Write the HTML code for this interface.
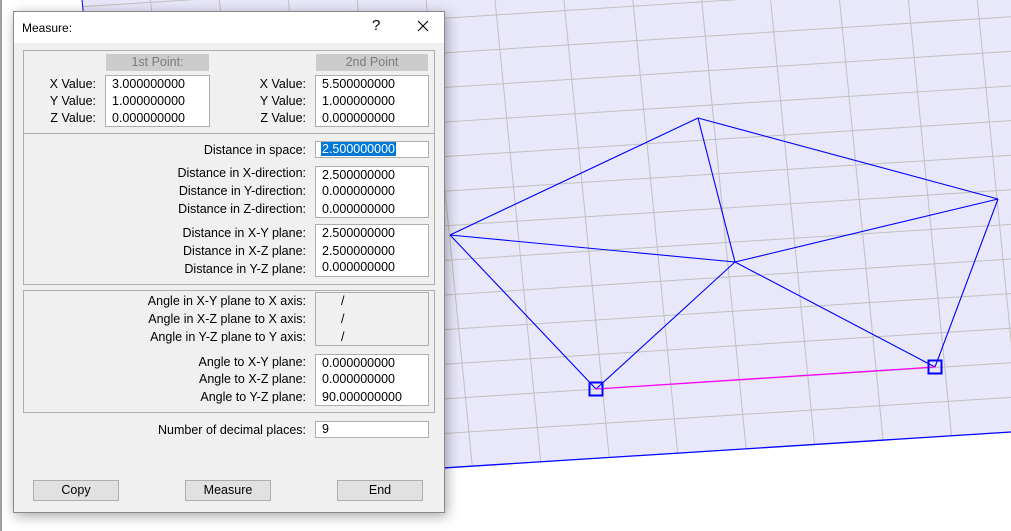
<!DOCTYPE html>
<html><head><meta charset="utf-8"><style>
body{margin:0;width:1011px;height:531px;overflow:hidden;background:#fff;position:relative;font-family:"Liberation Sans",sans-serif;font-size:12.5px;color:#000}
.abs{position:absolute}
.lbl{position:absolute;text-align:right;white-space:nowrap;line-height:14px}
.box{position:absolute;background:#fff;border:1px solid #adadad;box-sizing:border-box}
.val{position:absolute;white-space:nowrap;line-height:14px}
.btn{position:absolute;background:#e1e1e1;border:1px solid #adadad;box-sizing:border-box;text-align:center;line-height:18px;font-size:12.5px}
.hdr{position:absolute;background:#cccccc;color:#7a7a7a;text-align:center;line-height:17px;font-size:12.5px}
.sec{position:absolute;border:1px solid #adadad;box-sizing:border-box}
</style></head><body>
<svg class="abs" style="left:0;top:0" width="1011" height="531" id="view">
<defs><clipPath id="gc"><polygon points="82,0 1011,0 1011,432 128,488"/></clipPath></defs>
<polygon points="82,0 1011,0 1011,432 128,488" fill="#e8e8fa"/>
<g id="grid" clip-path="url(#gc)" stroke="#c0c0c0" stroke-width="1"></g>
<line x1="128" y1="488" x2="1011" y2="432" stroke="#0000ff" stroke-width="1.3"/>
<line x1="82" y1="0" x2="130" y2="488" stroke="#0000ff" stroke-width="1"/>
<g id="model" stroke="#0000ff" fill="none"></g>
</svg>
<div class="abs" style="left:0;top:0;width:2px;height:531px;background:#a0a0a0"></div>

<div class="abs" style="left:13px;top:11px;width:432px;height:502px;background:#f0f0f0;border:1px solid #888;box-sizing:border-box;box-shadow:2px 3px 12px rgba(0,0,0,0.35)">
<div class="abs" style="left:0;top:0;width:430px;height:31px;background:#fff"></div>
<div class="abs" style="left:8px;top:9px;font-size:12px">Measure:</div>
<div class="abs" style="left:358px;top:5px;font-size:15px">?</div>
<svg class="abs" style="left:403px;top:8px" width="12" height="12"><path d="M1,1L11,11M11,1L1,11" stroke="#000" stroke-width="1.1"/></svg>
</div>

<div class="sec" style="left:23px;top:50px;width:412px;height:84px"></div>
<div class="sec" style="left:23px;top:133px;width:412px;height:152px"></div>
<div class="sec" style="left:23px;top:290px;width:412px;height:123px"></div>

<div class="hdr" style="left:106px;top:54px;width:103px;height:17px">1st Point:</div>
<div class="hdr" style="left:316px;top:54px;width:112px;height:17px">2nd Point</div>

<div class="box" style="left:105px;top:75px;width:105px;height:52px"></div>
<div class="box" style="left:315px;top:75px;width:114px;height:52px"></div>
<div class="lbl" style="right:915px;top:77px">X Value:</div>
<div class="lbl" style="right:915px;top:94px">Y Value:</div>
<div class="lbl" style="right:915px;top:111px">Z Value:</div>
<div class="val" style="left:112px;top:77px">3.000000000</div>
<div class="val" style="left:112px;top:94px">1.000000000</div>
<div class="val" style="left:112px;top:111px">0.000000000</div>
<div class="lbl" style="right:705px;top:77px">X Value:</div>
<div class="lbl" style="right:705px;top:94px">Y Value:</div>
<div class="lbl" style="right:705px;top:111px">Z Value:</div>
<div class="val" style="left:322px;top:77px">5.500000000</div>
<div class="val" style="left:322px;top:94px">1.000000000</div>
<div class="val" style="left:322px;top:111px">0.000000000</div>

<div class="lbl" style="right:705px;top:143px">Distance in space:</div>
<div class="box" style="left:315px;top:141px;width:114px;height:17px"></div>
<div class="val" style="left:321px;top:142px;background:#0078d7;color:#fff;padding:0 1px">2.500000000</div>

<div class="box" style="left:315px;top:166px;width:114px;height:52px"></div>
<div class="lbl" style="right:705px;top:166px">Distance in X-direction:</div>
<div class="lbl" style="right:705px;top:184px">Distance in Y-direction:</div>
<div class="lbl" style="right:705px;top:202px">Distance in Z-direction:</div>
<div class="val" style="left:322px;top:168px">2.500000000</div>
<div class="val" style="left:322px;top:184px">0.000000000</div>
<div class="val" style="left:322px;top:202px">0.000000000</div>

<div class="box" style="left:315px;top:224px;width:114px;height:53px"></div>
<div class="lbl" style="right:705px;top:226px">Distance in X-Y plane:</div>
<div class="lbl" style="right:705px;top:244px">Distance in X-Z plane:</div>
<div class="lbl" style="right:705px;top:262px">Distance in Y-Z plane:</div>
<div class="val" style="left:322px;top:226px">2.500000000</div>
<div class="val" style="left:322px;top:244px">2.500000000</div>
<div class="val" style="left:322px;top:260px">0.000000000</div>

<div class="box" style="left:315px;top:292px;width:114px;height:54px;background:#f0f0f0"></div>
<div class="lbl" style="right:705px;top:294px">Angle in X-Y plane to X axis:</div>
<div class="lbl" style="right:705px;top:312px">Angle in X-Z plane to X axis:</div>
<div class="lbl" style="right:705px;top:330px">Angle in Y-Z plane to Y axis:</div>
<div class="val" style="left:341px;top:294px">/</div>
<div class="val" style="left:341px;top:312px">/</div>
<div class="val" style="left:341px;top:330px">/</div>

<div class="box" style="left:315px;top:354px;width:114px;height:52px"></div>
<div class="lbl" style="right:705px;top:355px">Angle to X-Y plane:</div>
<div class="lbl" style="right:705px;top:372px">Angle to X-Z plane:</div>
<div class="lbl" style="right:705px;top:390px">Angle to Y-Z plane:</div>
<div class="val" style="left:322px;top:356px">0.000000000</div>
<div class="val" style="left:322px;top:372px">0.000000000</div>
<div class="val" style="left:322px;top:390px">90.000000000</div>

<div class="lbl" style="right:705px;top:423px">Number of decimal places:</div>
<div class="box" style="left:315px;top:421px;width:114px;height:17px"></div>
<div class="val" style="left:322px;top:422px">9</div>

<div class="btn" style="left:33px;top:480px;width:86px;height:21px">Copy</div>
<div class="btn" style="left:185px;top:480px;width:86px;height:21px">Measure</div>
<div class="btn" style="left:337px;top:480px;width:86px;height:21px">End</div>

<script>
const hLineOffsets=[0,1,2,3,4,5,6,7,8,9,10,11,12,13,14];
const vLineOffsets=[-6,-5,-4,-3,-2,-1,0,1,2,3,4,5,6,7];
const nodeNames=['A','B','C','D','P1','P2'];
const nodeX=[450,698,998,735,596,935];
const nodeY=[235,118,199,262,389,367];
const edges=[[0,1],[1,2],[0,3],[3,2],[1,3],[0,4],[3,4],[3,5],[2,5]];
const NS='http://www.w3.org/2000/svg';
const grid=document.getElementById('grid');
function hy(k,x){return 468-34.6*k-0.0636*(x-445);}
function vx(k,y){return 495+68.9*k+0.099*y;}
hLineOffsets.forEach(k=>{
 const l=document.createElementNS(NS,'line');
 
 
 l.setAttribute('x1',0);l.setAttribute('y1',hy(k,0));
 l.setAttribute('x2',1011);l.setAttribute('y2',hy(k,1011));
 grid.appendChild(l);
});
vLineOffsets.forEach(k=>{
 const l=document.createElementNS(NS,'line');
 
 
 l.setAttribute('x1',vx(k,0));l.setAttribute('y1',0);
 l.setAttribute('x2',vx(k,531));l.setAttribute('y2',531);
 grid.appendChild(l);
});
const model=document.getElementById('model');
edges.forEach(e=>{
 const l=document.createElementNS(NS,'line');
 
 
 l.setAttribute('x1',nodeX[e[0]]);l.setAttribute('y1',nodeY[e[0]]);
 l.setAttribute('x2',nodeX[e[1]]);l.setAttribute('y2',nodeY[e[1]]);
 l.setAttribute('stroke-width',1.1);
 model.appendChild(l);
});
const m=document.createElementNS(NS,'line');


m.setAttribute('x1',nodeX[4]);m.setAttribute('y1',nodeY[4]);
m.setAttribute('x2',nodeX[5]);m.setAttribute('y2',nodeY[5]);
m.setAttribute('stroke','#ff00ff');m.setAttribute('stroke-width',1.3);
model.appendChild(m);
[4,5].forEach(i=>{
 const r=document.createElementNS(NS,'rect');
 
 
 r.setAttribute('x',nodeX[i]-6.5);r.setAttribute('y',nodeY[i]-6.5);
 r.setAttribute('width',13);r.setAttribute('height',13);
 r.setAttribute('stroke-width',2);
 model.appendChild(r);
});
</script>
</body></html>
